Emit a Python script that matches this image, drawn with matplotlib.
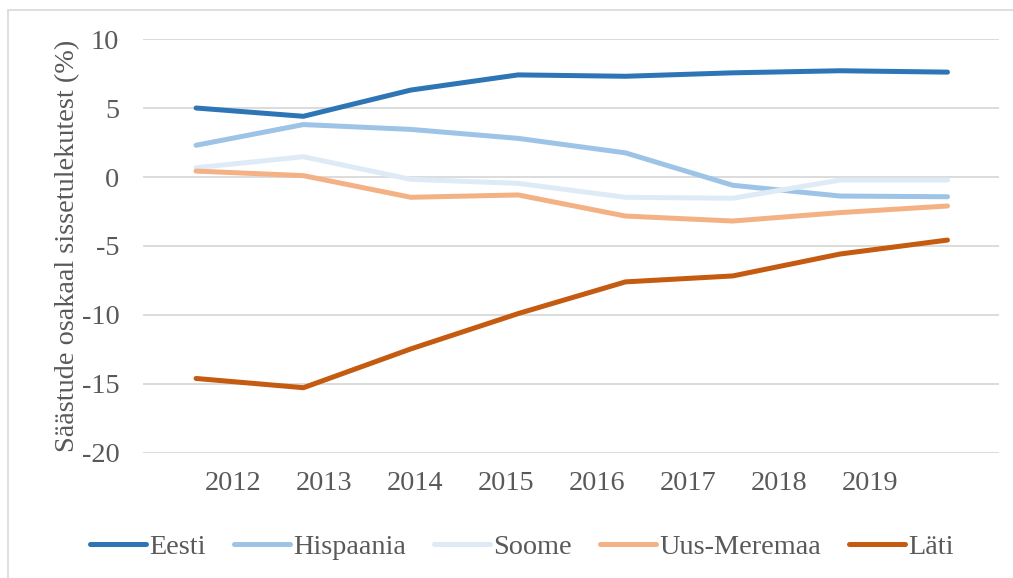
import matplotlib
matplotlib.use("Agg")
import matplotlib.pyplot as plt
from matplotlib.patches import Rectangle

# ---------------------------------------------------------------------------
# Data
# ---------------------------------------------------------------------------
years = ["2012", "2013", "2014", "2015", "2016", "2017", "2018", "2019"]

eesti = [5.0, 4.4, 6.3, 7.4, 7.3, 7.55, 7.7, 7.6]
hispaania = [2.3, 3.8, 3.45, 2.8, 1.75, -0.6, -1.38, -1.43]
soome = [0.67, 1.47, -0.17, -0.46, -1.47, -1.54, -0.22, -0.22]
uus_meremaa = [0.43, 0.1, -1.47, -1.3, -2.83, -3.19, -2.58, -2.1]
lati = [-14.6, -15.27, -12.46, -9.9, -7.6, -7.17, -5.58, -4.57]

series = [
    ("Eesti", eesti, "#2E75B6"),
    ("Hispaania", hispaania, "#9DC3E6"),
    ("Soome", soome, "#DEEBF7"),
    ("Uus-Meremaa", uus_meremaa, "#F4B183"),
    ("Läti", lati, "#C55A11"),
]

text_color = "#595959"
grid_color = "#D9D9D9"
fs = 20.3

plt.rcParams["font.family"] = ["Liberation Serif", "DejaVu Serif"]
plt.rcParams["axes.unicode_minus"] = False

fig = plt.figure(figsize=(10.13, 5.78), dpi=100)
ax = fig.add_axes([0.1412, 0.2163, 0.845, 0.7162])

# chart area border
fig.patches.append(Rectangle((0.008, -0.05), 1.1, 1.033, transform=fig.transFigure,
                             fill=False, edgecolor=grid_color, linewidth=1.2))

x = list(range(len(years)))
for name, vals, color in series:
    ax.plot(x, vals, color=color, linewidth=3.6, label=name,
            solid_capstyle="round", solid_joinstyle="round")

ax.set_ylim(-20, 10)
ax.set_yticks([-20, -15, -10, -5, 0, 5, 10])
ax.set_xlim(-0.494, 7.48)

# the category labels sit on their own spacing (as in the original Excel chart)
label_offset, label_step = 0.345, 0.848
ax.set_xticks([label_offset + i * label_step for i in range(len(years))])
ax.set_xticklabels(years)

ax.grid(axis="y", color=grid_color, linewidth=1.3)
ax.set_axisbelow(True)
for s in ax.spines.values():
    s.set_visible(False)
ax.tick_params(axis="both", length=0, labelsize=fs, labelcolor=text_color)
ax.tick_params(axis="x", pad=13)
ax.tick_params(axis="y", pad=17)

ax.set_ylabel("Säästude osakaal sissetulekutest (%)", fontsize=fs,
              color=text_color)
ax.yaxis.set_label_coords(-0.073, 0.5)

leg = fig.legend(loc="center", bbox_to_anchor=(0.515, 0.053), ncol=5,
                 frameon=False, fontsize=fs, handlelength=2.0,
                 handletextpad=0.1, columnspacing=1.0)
for t in leg.get_texts():
    t.set_color(text_color)

fig.savefig("out.png", dpi=100)
